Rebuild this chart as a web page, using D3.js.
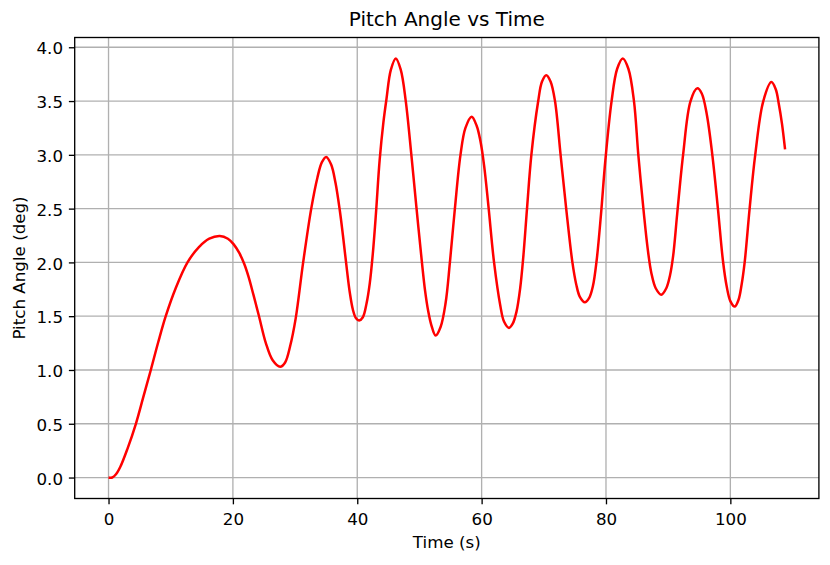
<!DOCTYPE html>
<html>
<head>
<meta charset="utf-8">
<script src="https://cdn.jsdelivr.net/npm/d3@7"></script>
<style>
  html, body { margin: 0; padding: 0; background: #fff; }
  svg { display: block; font-family: "DejaVu Sans", sans-serif; }
</style>
</head>
<body>
<svg id="chart" width="830" height="565"></svg>
<script>
// ---- data ----
const timeS = [0, 0.6, 1.2, 1.9, 3.0, 4.4, 5.6, 6.8, 8.0, 9.2, 10.8, 12.7, 14.5, 16.2, 17.9, 19.2, 20.1, 21.0, 21.8, 22.5, 23.3,
  24.2, 25.3, 26.4, 27.6, 28.4, 29.2, 30.1, 31.3, 32.6, 33.6, 34.3, 35.0, 35.8, 36.5, 37.2, 37.7, 38.2, 38.8, 39.3, 39.8,
  40.3, 40.9, 41.5, 42.0, 42.5, 43.0, 43.6, 44.2, 44.7, 45.4, 46.2, 47.0, 47.8, 48.7, 49.5, 50.4, 50.9, 51.4, 51.9, 52.6,
  53.4, 54.2, 54.9, 55.7, 56.6, 57.4, 58.4, 59.2, 59.8, 60.4, 61.1, 62.0, 63.0, 63.6, 64.4, 65.0, 65.6, 66.2, 66.7, 67.3, 68.0,
  69.1, 69.7, 70.4, 71.1, 71.8, 72.7, 73.6, 74.6, 75.2, 75.8, 76.6, 77.3, 77.9, 78.5, 79.2, 79.9, 80.9, 81.8, 82.7, 83.6,
  84.5, 85.2, 86.1, 86.7, 87.3, 88.0, 88.9, 89.7, 90.3, 90.8, 91.45, 92.4, 93.6, 94.7, 95.4, 96.2, 97.1, 98.0, 98.8, 99.4,
  100.0, 100.7, 101.3, 101.8, 102.3, 103.1, 104.0, 105.3, 106.6, 107.3, 107.8, 108.3, 108.8];
const pitchDeg = [0, 0.0, 0.03, 0.10, 0.26, 0.50, 0.75, 1.00, 1.26, 1.50, 1.76, 2.00, 2.14, 2.22, 2.245, 2.22, 2.17, 2.09, 1.99, 1.87, 1.70,
  1.50, 1.25, 1.09, 1.03, 1.07, 1.22, 1.48, 2.00, 2.50, 2.79, 2.93, 2.98, 2.91, 2.74, 2.48, 2.25, 2.00, 1.72, 1.56, 1.48,
  1.46, 1.49, 1.62, 1.80, 2.08, 2.45, 2.95, 3.30, 3.52, 3.79, 3.896, 3.79, 3.50, 3.00, 2.52, 2.00, 1.74, 1.55, 1.42, 1.32,
  1.40, 1.62, 2.00, 2.50, 3.00, 3.25, 3.354, 3.27, 3.13, 2.90, 2.52, 2.00, 1.60, 1.45, 1.391, 1.43, 1.54, 1.76, 2.05, 2.50, 3.00,
  3.50, 3.68, 3.741, 3.68, 3.50, 3.00, 2.50, 2.00, 1.80, 1.68, 1.629, 1.67, 1.78, 2.02, 2.45, 2.95, 3.50, 3.80, 3.896, 3.80,
  3.50, 3.00, 2.45, 2.13, 1.90, 1.76, 1.70, 1.76, 1.88, 2.06, 2.45, 3.00, 3.50, 3.618, 3.57, 3.38, 3.00, 2.50, 2.02, 1.78,
  1.64, 1.589, 1.65, 1.79, 2.00, 2.50, 3.00, 3.50, 3.676, 3.61, 3.47, 3.29, 3.05];
const xTicks = [0, 20, 40, 60, 80, 100];
const yTicks = [0.0, 0.5, 1.0, 1.5, 2.0, 2.5, 3.0, 3.5, 4.0];
const titleText = "Pitch Angle vs Time";
const xLabel = "Time (s)";
const yLabel = "Pitch Angle (deg)";

// ---- layout ----
const plotL = 74.7, plotR = 818.9, plotT = 37.5, plotB = 498.5;
const fontTick = 16.7, fontTitle = 20;
const svg = d3.select("#chart");

const xMin = d3.min(timeS), xMax = d3.max(timeS);
const yMin = d3.min(pitchDeg), yMax = d3.max(pitchDeg);
const xPad = (xMax - xMin) * 0.05, yPad = (yMax - yMin) * 0.05;

const x = d3.scaleLinear().domain([xMin - xPad, xMax + xPad]).range([plotL, plotR]);
const y = d3.scaleLinear().domain([yMin - yPad, yMax + yPad]).range([plotB, plotT]);

// grid
const grid = svg.append("g");
grid.selectAll("line.vx").data(xTicks).enter().append("line").attr("class", "vx")
  .attr("x1", d => x(d)).attr("x2", d => x(d)).attr("y1", plotT).attr("y2", plotB)
  .attr("stroke", "#b0b0b0").attr("stroke-width", 1.33);
grid.selectAll("line.hy").data(yTicks).enter().append("line").attr("class", "hy")
  .attr("y1", d => y(d)).attr("y2", d => y(d)).attr("x1", plotL).attr("x2", plotR)
  .attr("stroke", "#b0b0b0").attr("stroke-width", 1.33);

// line
const pts = timeS.map((t, i) => [t, pitchDeg[i]]);
const line = d3.line().x(d => x(d[0])).y(d => y(d[1])).curve(d3.curveCatmullRom.alpha(0.5));
svg.append("path").datum(pts).attr("d", line)
  .attr("fill", "none").attr("stroke", "#ff0000").attr("stroke-width", 2.5)
  .attr("stroke-linejoin", "round").attr("stroke-linecap", "butt");

// axes
const xAxis = d3.axisBottom(x).tickValues(xTicks).tickFormat(d3.format("d")).tickSize(5.83).tickPadding(5.83);
const yAxis = d3.axisLeft(y).tickValues(yTicks).tickFormat(d3.format(".1f")).tickSize(5.83).tickPadding(5.83);

const gx = svg.append("g").attr("transform", `translate(0,${plotB})`).call(xAxis);
const gy = svg.append("g").attr("transform", `translate(${plotL},0)`).call(yAxis);
[gx, gy].forEach(g => {
  g.select(".domain").remove();
  g.selectAll(".tick line").attr("stroke", "#000").attr("stroke-width", 1.33);
  g.selectAll(".tick text").attr("fill", "#000").attr("font-size", fontTick + "px")
    .attr("font-family", "DejaVu Sans, sans-serif");
});
gx.selectAll(".tick text").attr("y", 26.8).attr("dy", null);
gy.selectAll(".tick text").attr("dy", "0.40em");

// frame
svg.append("rect").attr("x", plotL).attr("y", plotT).attr("width", plotR - plotL).attr("height", plotB - plotT)
  .attr("fill", "none").attr("stroke", "#000").attr("stroke-width", 1.33);

// labels
svg.append("text").attr("x", (plotL + plotR) / 2).attr("y", 25.5).attr("text-anchor", "middle")
  .attr("font-size", fontTitle + "px").attr("fill", "#000").text(titleText);
svg.append("text").attr("x", (plotL + plotR) / 2).attr("y", 548.3).attr("text-anchor", "middle")
  .attr("font-size", fontTick + "px").attr("fill", "#000").text(xLabel);
svg.append("text").attr("transform", `translate(25,${(plotT + plotB) / 2}) rotate(-90)`).attr("text-anchor", "middle")
  .attr("font-size", fontTick + "px").attr("fill", "#000").text(yLabel);
</script>
</body>
</html>
